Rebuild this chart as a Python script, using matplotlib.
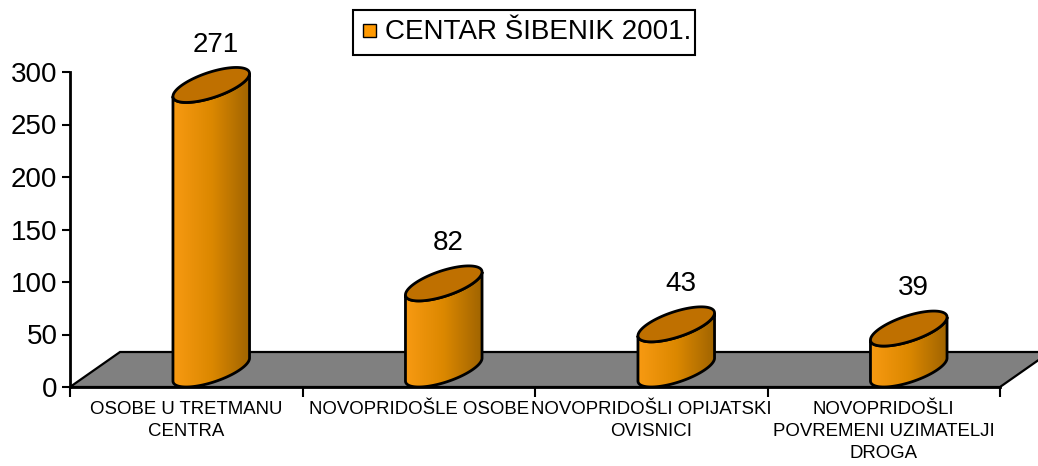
import numpy as np
import matplotlib
matplotlib.use("Agg")
import matplotlib.pyplot as plt
from matplotlib.patches import Polygon, Rectangle
from matplotlib.colors import LinearSegmentedColormap

# podaci
kategorije = ["OSOBE U TRETMANU\nCENTRA", "NOVOPRIDOŠLE OSOBE",
              "NOVOPRIDOŠLI OPIJATSKI\nOVISNICI",
              "NOVOPRIDOŠLI\nPOVREMENI UZIMATELJI\nDROGA"]
vrijednosti = [271, 82, 43, 39]
serija = "CENTAR ŠIBENIK 2001."

plt.rcParams['font.family'] = ['Liberation Sans', 'DejaVu Sans']

W, H = 1038, 466
fig = plt.figure(figsize=(W / 100, H / 100), dpi=100)
ax = fig.add_axes([70 / W, (H - 387) / H, 930 / W, 315 / H])
ax.set_xlim(0, 4)
ax.set_ylim(0, 300)

# dubina (kosa projekcija) u jedinicama podataka
dx = 50 / 232.5
dy = 35 / 1.05
r = 29 / 232.5      # polumjer valjka po x
k = 0.5             # polumjer po dubini (udio dubine)

# pod
pod = Polygon([(0, 0), (4, 0), (4 + dx, dy), (dx, dy)], closed=True,
              facecolor='#808080', edgecolor='black', lw=1.6, zorder=1,
              clip_on=False)
ax.add_patch(pod)

cmap = LinearSegmentedColormap.from_list('nar', ['#F89A12', '#DC8800', '#A06400'])

t0 = np.arctan2(k * dx, r)

def elipsa(cx, cy, t):
    return cx + r * np.cos(t) + k * dx * np.sin(t), cy + k * dy * np.sin(t)

for i, v in enumerate(vrijednosti):
    cx = i + 0.5 + 0.5 * dx
    yb = 0.5 * dy
    yt = v + 0.5 * dy
    t = np.linspace(np.pi + t0, 2 * np.pi + t0, 100)
    xt, ytop = elipsa(cx, yt, t)
    xb, ybot = elipsa(cx, yb, t[::-1])
    tijelo = np.column_stack([np.r_[xt, xb], np.r_[ytop, ybot]])
    poly = Polygon(tijelo, closed=True, facecolor='none', edgecolor='black',
                   lw=2, zorder=4)
    ax.add_patch(poly)
    x0, x1 = tijelo[:, 0].min(), tijelo[:, 0].max()
    grad = np.linspace(0, 1, 256).reshape(1, -1)
    im = ax.imshow(grad, cmap=cmap, aspect='auto', zorder=3,
                   extent=(x0, x1, tijelo[:, 1].min(), tijelo[:, 1].max()))
    clip = Polygon(tijelo, closed=True, transform=ax.transData)
    im.set_clip_path(clip)
    # vrh
    tt = np.linspace(0, 2 * np.pi, 200)
    xe, ye = elipsa(cx, yt, tt)
    ax.add_patch(Polygon(np.column_stack([xe, ye]), closed=True,
                         facecolor='#BF7000', edgecolor='black', lw=2,
                         zorder=5, clip_on=False))
    ax.annotate(str(v), (cx + 0.02, yt), xytext=(0, 29),
                textcoords='offset points', ha='center', va='center',
                fontsize=20, annotation_clip=False)

ax.set_xlim(0, 4)
ax.set_ylim(0, 300)

for s in ['top', 'right']:
    ax.spines[s].set_visible(False)
for s in ['left', 'bottom']:
    ax.spines[s].set_linewidth(2)
    ax.spines[s].set_zorder(6)

ax.set_yticks(range(0, 301, 50))
ax.tick_params(axis='y', labelsize=20, length=6, width=1.5, direction='out', pad=3)
ax.set_xticks(range(5))
ax.set_xticklabels([])
ax.tick_params(axis='x', which='major', length=7, width=1.5, direction='out')
ax.set_xticks([i + 0.5 for i in range(4)], minor=True)
ax.set_xticklabels(kategorije, minor=True, fontsize=13.4, linespacing=1.4)
ax.tick_params(axis='x', which='minor', length=0, pad=10)

# legenda
fig.patches.append(Rectangle((353 / W, 1 - 55 / H), 342 / W, 45 / H,
                             transform=fig.transFigure, facecolor='white',
                             edgecolor='black', lw=1.5, zorder=9))
fig.patches.append(Rectangle((363 / W, 1 - 37 / H), 13 / W, 13 / H,
                             transform=fig.transFigure,
                             facecolor='#FF9900', edgecolor='black',
                             lw=1, zorder=10))
fig.text(385 / W, 1 - 32 / H, serija, fontsize=20, va='center', ha='left',
         zorder=11)

fig.savefig('out.png', dpi=100)
